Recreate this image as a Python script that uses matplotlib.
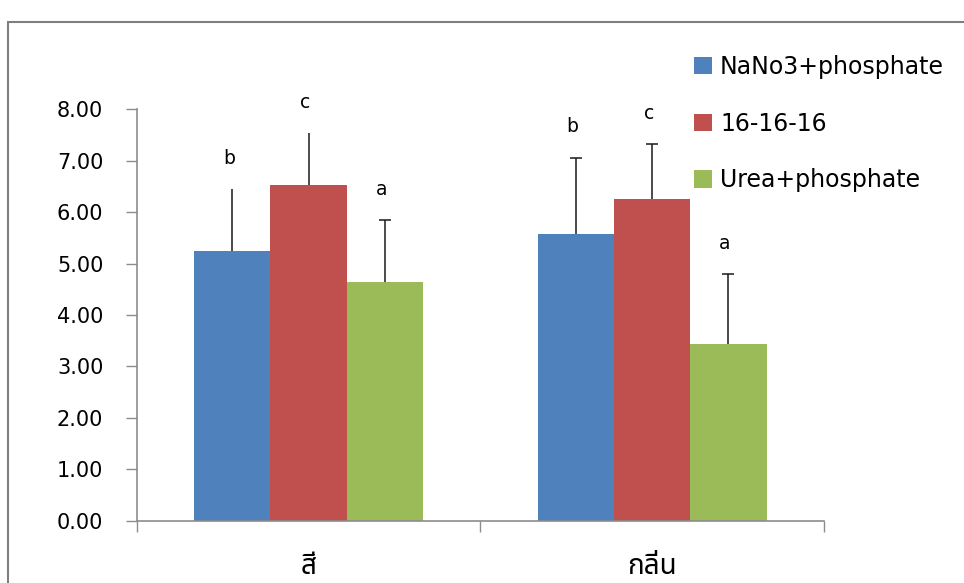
import numpy as np
import matplotlib
matplotlib.use("Agg")
import matplotlib.pyplot as plt
from matplotlib.patches import Rectangle

plt.rcParams['font.family'] = ['DejaVu Sans', 'Noto Sans Thai']

categories = ['สี', 'กลิ่น']
series = ['NaNo3+phosphate', '16-16-16', 'Urea+phosphate']
means = [[5.25, 5.57],
         [6.52, 6.25],
         [4.65, 3.44]]
errors = [[1.20, 1.49],
          [1.02, 1.07],
          [1.19, 1.35]]
letters = [['b', 'b'],
           ['c', 'c'],
           ['a', 'a']]
# the first group's blue and red bars were drawn without caps
caps = [[False, True],
        [False, True],
        [True, True]]
colors = ['#4F81BD', '#C0504D', '#9BBB59']

W, H = 964, 583
fig = plt.figure(figsize=(W / 100, H / 100), dpi=100)
ax = fig.add_axes([136.7 / W, 62.3 / H, 687.3 / W, 411.4 / H])

x = np.arange(len(categories))
width = 0.222
cap_half = 0.0175
for i, name in enumerate(series):
    xs = x + (i - 1) * width
    tops = np.array(means[i]) + np.array(errors[i])
    ax.bar(xs, means[i], width, color=colors[i], label=name, zorder=2)
    # upper error bars only
    ax.vlines(xs, means[i], tops, color='#1a1a1a', linewidth=1.1, zorder=3)
    for j in range(len(categories)):
        if caps[i][j]:
            ax.hlines(tops[j], xs[j] - cap_half, xs[j] + cap_half,
                      color='#1a1a1a', linewidth=1.1, zorder=3)
        ax.text(xs[j] - 0.01, tops[j] + 0.6, letters[i][j],
                ha='center', va='center', fontsize=13.5, color='black')

ax.set_xlim(-0.5, len(categories) - 0.5)
ax.set_ylim(0, 8)
ax.set_yticks(np.arange(0, 9, 1))
ax.set_yticklabels([f'{v:.2f}' for v in np.arange(0, 9, 1)])
ax.set_xticks(x)
ax.set_xticklabels(categories, fontsize=20, family=['Noto Sans Thai', 'DejaVu Sans'])
ax.set_xticks(np.arange(-0.5, len(categories), 1), minor=True)
ax.tick_params(axis='x', which='major', length=0, pad=23)
ax.tick_params(axis='x', which='minor', length=8, width=1, color='#8c8c8c', direction='out')
ax.tick_params(axis='y', length=8, width=1, color='#8c8c8c', direction='out',
               labelsize=15, pad=16)

for side in ['top', 'right']:
    ax.spines[side].set_visible(False)
for side in ['left', 'bottom']:
    ax.spines[side].set_color('#8c8c8c')
    ax.spines[side].set_linewidth(1.2)

fig.legend(loc='upper left', bbox_to_anchor=(694 / W, 1 - 55 / H), frameon=False,
           fontsize=17, handlelength=0.75, handleheight=0.75, handletextpad=0.35,
           labelspacing=1.38, borderaxespad=0, borderpad=0)

# chart area border
fig.patches.append(Rectangle((8 / W, -0.1), 1.2, (H - 22) / H + 0.1, transform=fig.transFigure,
                             fill=False, edgecolor='#7f7f7f', linewidth=1.5))

fig.savefig('out.png', dpi=100)
